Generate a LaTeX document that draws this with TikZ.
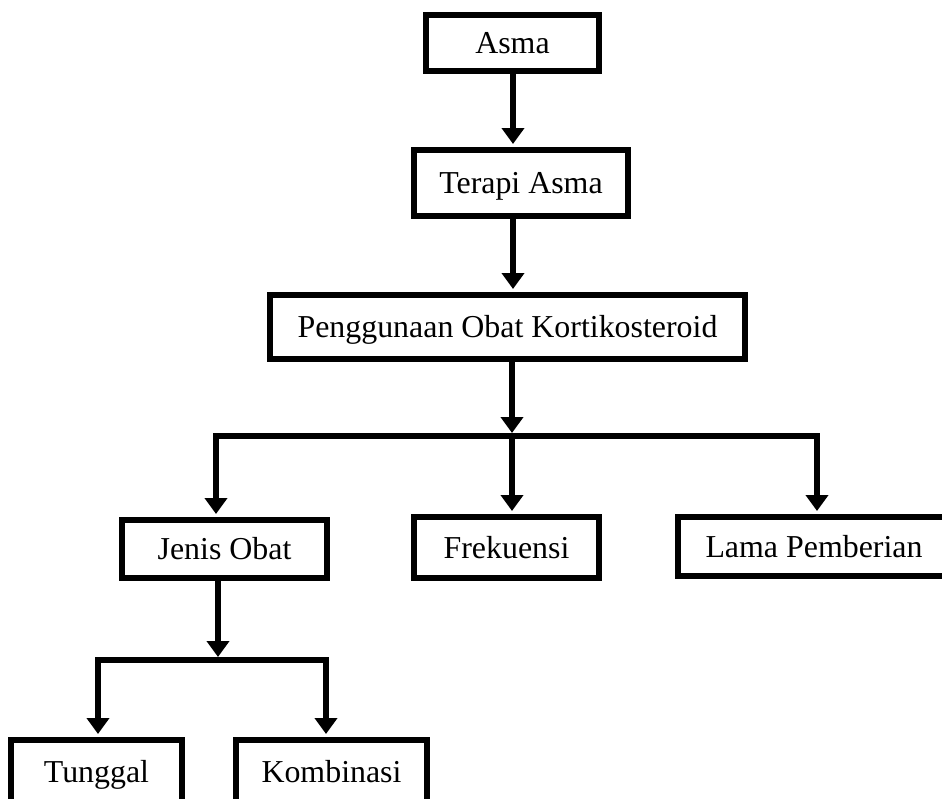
\documentclass[tikz,border=0pt]{standalone}
\usepackage{fontspec}
\setmainfont{Liberation Serif}
\usetikzlibrary{arrows.meta}
\begin{document}
\begin{tikzpicture}[x=1pt,y=-1pt,
  box/.style={draw=black, line width=6pt, inner sep=0pt, text height=21pt, text depth=0pt,
              font=\fontsize{31.9}{38}\selectfont},
  arr/.style={line width=6pt, line join=miter, -{Triangle[width=22pt,length=16pt]}}]
\clip (0,0) rectangle (942,798);
\fill[white] (0,0) rectangle (942,798);
\node[box, minimum width=173pt, minimum height=56pt] (asma) at (512.5,43) {Asma};
\node[box, minimum width=214pt, minimum height=66pt] (terapi) at (521,183) {Terapi Asma};
\node[box, minimum width=475pt, minimum height=64pt] (obat) at (507.5,327) {Penggunaan Obat Kortikosteroid};
\node[box, minimum width=205pt, minimum height=58pt] (jenis) at (224.5,549) {Jenis Obat};
\node[box, minimum width=185pt, minimum height=61pt] (frek) at (506.5,547.5) {Frekuensi};
\node[box, minimum width=272pt, minimum height=59pt] (lama) at (814,546.5) {Lama Pemberian};
\node[box, minimum width=171pt, minimum height=64pt] (tunggal) at (96.5,772) {Tunggal};
\node[box, minimum width=191pt, minimum height=64pt] (kombi) at (331.5,772) {Kombinasi};
\coordinate (a1) at (513,0);
\coordinate (hub) at (512,436);
\coordinate (hl) at (216,436);
\coordinate (hr) at (817,436);
\coordinate (hub2) at (218,660);
\coordinate (h2l) at (98,660);
\coordinate (h2r) at (326,660);
\draw[arr] (asma.south -| a1) -- ([yshift=3pt]terapi.north -| a1);
\draw[arr] (terapi.south -| a1) -- ([yshift=3pt]obat.north -| a1);
\draw[arr] (obat.south -| hub) -- ([yshift=3pt]hub);
\draw[arr] (hub) -- (hl) -- ([yshift=3pt]jenis.north -| hl);
\draw[arr] (hub) -- (hr) -- ([yshift=3pt]lama.north -| hr);
\draw[arr] (hub) -- ([yshift=3pt]frek.north -| hub);
\draw[arr] (jenis.south -| hub2) -- ([yshift=3pt]hub2);
\draw[arr] (hub2) -- (h2l) -- ([yshift=3pt]tunggal.north -| h2l);
\draw[arr] (hub2) -- (h2r) -- ([yshift=3pt]kombi.north -| h2r);
\end{tikzpicture}
\end{document}
